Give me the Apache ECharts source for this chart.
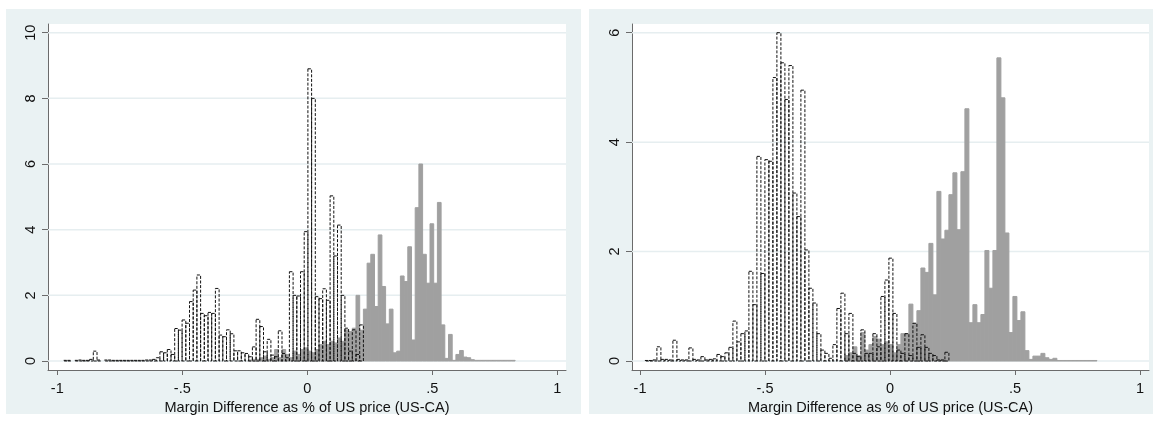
<!DOCTYPE html>
<html>
<head>
<meta charset="utf-8">
<script src="https://cdn.jsdelivr.net/npm/echarts@6/dist/echarts.min.js"></script>
<style>
  html, body { margin: 0; padding: 0; background: #ffffff; }
  #chart { width: 1153px; height: 422px; }
</style>
</head>
<body>
<div id="chart"></div>
<script>
// Histogram bins: left edge of first bin and common bin width (in x units)
const leftBinStart = -0.9744;
const leftBinWidth = 0.0148;
const rightBinStart = -0.9804;
const rightBinWidth = 0.016;

// Left panel densities, one value per bin
const leftDashed = [
  0.02, 0.02, 0, 0.02, 0.03, 0.02, 0.02, 0.05, 0.3, 0.03,
  0, 0.03, 0.03, 0.02, 0.02, 0.02, 0.02, 0.02, 0.02, 0.02,
  0.02, 0.02, 0.03, 0.03, 0.05, 0.1, 0.28, 0.25, 0.35, 0.2,
  0.99, 0.94, 1.25, 1.15, 1.81, 2.16, 2.62, 1.45, 1.38, 1.48,
  1.45, 2.21, 0.79, 0.74, 0.95, 0.83, 0.31, 0.31, 0.25, 0.23,
  0.13, 0.43, 1.27, 1.05, 0.28, 0.66, 0.18, 0.13, 0.92, 0.23,
  0.1, 2.72, 2.0, 1.98, 2.72, 3.94, 8.9, 8.0, 1.96, 1.9,
  2.2, 1.85, 5.03, 3.2, 4.14, 2.0, 1.0, 0.3, 0.95, 0.2,
  1.1
];
const leftGray = [
  0, 0, 0, 0, 0, 0, 0, 0, 0, 0,
  0, 0, 0, 0, 0, 0, 0, 0, 0, 0,
  0, 0, 0, 0, 0, 0, 0, 0, 0, 0,
  0, 0, 0, 0, 0, 0, 0, 0, 0, 0,
  0, 0, 0, 0, 0, 0, 0, 0, 0, 0,
  0.03, 0.05, 0.05, 0.1, 0.15, 0.05, 0.1, 0.35, 0.1, 0.35,
  0.2, 0.1, 0.3, 0.2, 0.35, 0.4, 0.3, 0.25, 0.35, 0.5,
  0.6, 0.5, 0.6, 0.55, 0.7, 0.6, 0.95, 0.9, 1.0, 2.0,
  0.94, 1.58, 2.98, 3.25, 1.66, 3.84, 2.27, 1.13, 1.58, 0.25,
  0.3, 2.59, 2.42, 3.48, 0.64, 4.67, 6.0, 3.25, 2.37, 4.18,
  2.37, 4.83, 1.1, 0.08, 0.81, 0.02, 0.2, 0.32, 0.12, 0.1,
  0.04, 0.02, 0.02, 0.02, 0.02, 0.02, 0.02, 0.02, 0.02, 0.02,
  0.02, 0.02
];

// Right panel densities, one value per bin
const rightDashed = [
  0.01, 0.01, 0.02, 0.26, 0.03, 0.03, 0.02, 0.38, 0.03, 0.02,
  0.02, 0.24, 0.03, 0.02, 0.08, 0.02, 0.03, 0.04, 0.12, 0.08,
  0.15, 0.25, 0.73, 0.35, 0.5, 0.55, 1.64, 1.03, 3.74, 1.6,
  3.68, 3.65, 5.18, 6.0, 5.45, 4.78, 5.4, 3.07, 2.64, 4.95,
  2.03, 1.33, 1.06, 0.5, 0.2, 0.14, 0.05, 0.3, 0.96, 1.24,
  0.5, 0.87, 0.14, 0.08, 0.57, 0.14, 0.14, 0.5, 0.26, 1.18,
  1.48, 1.88, 0.87, 0.2, 0.14, 0.5, 0.1, 0.69, 0.25, 0.48,
  0.25, 0.14, 0.1, 0.02, 0.02, 0.16
];
const rightGray = [
  0, 0, 0, 0, 0, 0, 0, 0, 0, 0,
  0, 0, 0, 0, 0, 0, 0, 0, 0, 0,
  0, 0, 0, 0, 0, 0, 0, 0, 0, 0,
  0, 0, 0, 0, 0, 0, 0, 0, 0, 0,
  0, 0, 0, 0, 0, 0, 0, 0, 0, 0,
  0.1, 0.15, 0.26, 0.1, 0.52, 0.2, 0.3, 0.45, 0.4, 0.3,
  0.35, 0.3, 0.15, 0.3, 0.5, 0.5, 1.04, 0.69, 0.92, 1.7,
  1.62, 2.15, 1.21, 3.1, 2.23, 2.39, 3.04, 3.44, 2.4, 3.46,
  4.61, 0.7, 1.03, 0.7, 0.85, 2.02, 1.33, 2.02, 5.54, 4.81,
  2.34, 0.52, 1.18, 0.74, 0.9, 0.19, 0.03, 0.09, 0.09, 0.14,
  0.06, 0.03, 0.05, 0.01, 0.01, 0.01, 0.01, 0.01, 0.01, 0.01,
  0.01, 0.01, 0.01
];

// Axis ticks and labels
const xTicks = [-1, -0.5, 0, 0.5, 1];
const xTickLabels = ['-1', '-.5', '0', '.5', '1'];
const leftYTicks = [0, 2, 4, 6, 8, 10];
const rightYTicks = [0, 2, 4, 6];
const xTitle = 'Margin Difference as % of US price (US-CA)';

const panelBg = '#eaf2f3';
const gridColor = '#e6eef0';
const axisColor = '#6b6b6b';
const textColor = '#111111';
const grayFill = '#a0a0a0';
const font = '"Liberation Sans", Arial, sans-serif';

const chart = echarts.init(document.getElementById('chart'), null, { renderer: 'canvas' });

function histRender(binStart, binWidth, dashed) {
  return function (params, api) {
    const k = api.value(0);
    const h = api.value(1);
    const p0 = api.coord([binStart + k * binWidth, 0]);
    const p1 = api.coord([binStart + (k + 1) * binWidth, h]);
    const shape = { x: p0[0], y: p1[1], width: p1[0] - p0[0], height: p0[1] - p1[1] };
    if (dashed) {
      return {
        type: 'rect', shape: shape,
        style: { fill: null, stroke: '#111111', lineWidth: 1, lineDash: [3, 1.6] }
      };
    }
    return {
      type: 'rect', shape: shape,
      style: { fill: grayFill, stroke: grayFill, lineWidth: 1 }
    };
  };
}

function toData(values) {
  const out = [];
  values.forEach(function (v, k) { if (v > 0) out.push([k, v]); });
  return out;
}

function gridLineSeries(axisIndex, ticks, xMin, xMax) {
  return {
    type: 'custom', xAxisIndex: axisIndex, yAxisIndex: axisIndex, z: 1, silent: true,
    data: ticks.map(function (t) { return [t]; }),
    renderItem: function (params, api) {
      const y = api.value(0);
      const a = api.coord([xMin, y]);
      const b = api.coord([xMax, y]);
      return {
        type: 'line', shape: { x1: a[0], y1: a[1], x2: b[0], y2: b[1] },
        style: { stroke: gridColor, lineWidth: 1.5 }
      };
    }
  };
}

const panels = [
  { left: 48, width: 518, xMin: -1.0372, xMax: 1.0348, yMin: -0.274, yMax: 10.265, yTicks: leftYTicks },
  { left: 632, width: 517, xMin: -1.032, xMax: 1.036, yMin: -0.164, yMax: 6.159, yTicks: rightYTicks }
];

function xLabel(v) {
  const i = xTicks.indexOf(v);
  return i >= 0 ? xTickLabels[i] : '';
}

const option = {
  backgroundColor: '#ffffff',
  animation: false,
  graphic: [
    { type: 'rect', z: -10, shape: { x: 6, y: 9, width: 575, height: 405 }, style: { fill: panelBg } },
    { type: 'rect', z: -10, shape: { x: 589, y: 9, width: 564, height: 405 }, style: { fill: panelBg } }
  ],
  grid: panels.map(function (p) {
    return { left: p.left, top: 24, width: p.width, height: 346, show: true, backgroundColor: '#ffffff', borderWidth: 0 };
  }),
  xAxis: panels.map(function (p, i) {
    return {
      type: 'value', gridIndex: i, min: p.xMin, max: p.xMax,
      name: xTitle, nameLocation: 'middle', nameGap: 27,
      nameTextStyle: { color: textColor, fontFamily: font, fontSize: 14.5 },
      axisLine: { show: true, onZero: false, lineStyle: { color: axisColor, width: 1 } },
      axisTick: { show: true, length: 5, customValues: xTicks, lineStyle: { color: axisColor } },
      axisLabel: { show: true, customValues: xTicks, formatter: xLabel, margin: 11,
        color: textColor, fontFamily: font, fontSize: 14.5 },
      splitLine: { show: false }
    };
  }),
  yAxis: panels.map(function (p, i) {
    return {
      type: 'value', gridIndex: i, min: p.yMin, max: p.yMax,
      axisLine: { show: true, onZero: false, lineStyle: { color: axisColor, width: 1 } },
      axisTick: { show: true, length: 6, customValues: p.yTicks, lineStyle: { color: axisColor } },
      axisLabel: { show: true, customValues: p.yTicks, rotate: 90, margin: 10,
        color: textColor, fontFamily: font, fontSize: 14.5 },
      splitLine: { show: false }
    };
  }),
  series: [
    gridLineSeries(0, leftYTicks, panels[0].xMin, panels[0].xMax),
    gridLineSeries(1, rightYTicks, panels[1].xMin, panels[1].xMax),
    { type: 'custom', name: 'left-gray', xAxisIndex: 0, yAxisIndex: 0, z: 2, clip: true,
      renderItem: histRender(leftBinStart, leftBinWidth, false), data: toData(leftGray) },
    { type: 'custom', name: 'left-dashed', xAxisIndex: 0, yAxisIndex: 0, z: 3, clip: true,
      renderItem: histRender(leftBinStart, leftBinWidth, true), data: toData(leftDashed) },
    { type: 'custom', name: 'right-gray', xAxisIndex: 1, yAxisIndex: 1, z: 2, clip: true,
      renderItem: histRender(rightBinStart, rightBinWidth, false), data: toData(rightGray) },
    { type: 'custom', name: 'right-dashed', xAxisIndex: 1, yAxisIndex: 1, z: 3, clip: true,
      renderItem: histRender(rightBinStart, rightBinWidth, true), data: toData(rightDashed) }
  ]
};

chart.setOption(option);
</script>
</body>
</html>
